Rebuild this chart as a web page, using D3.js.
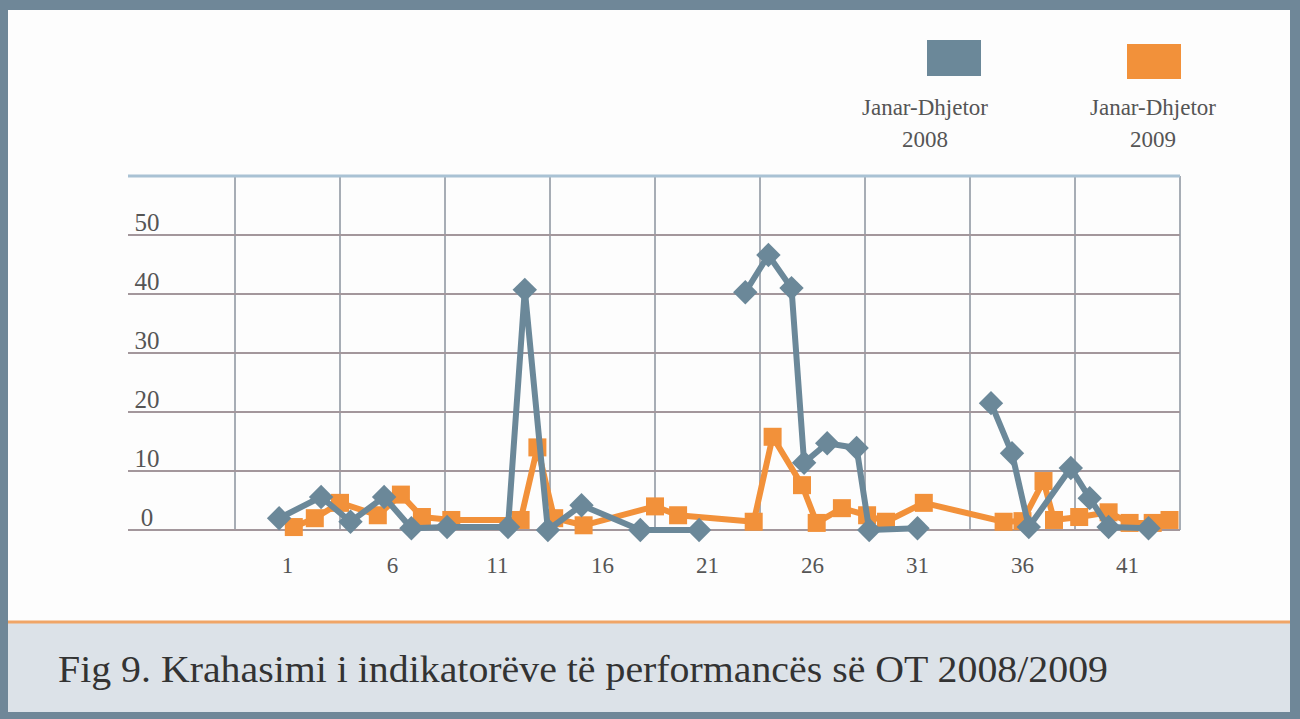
<!DOCTYPE html>
<html>
<head>
<meta charset="utf-8">
<script src="https://cdn.jsdelivr.net/npm/d3@7"></script>
<style>
  body { margin: 0; background: #fff; }
  svg { display: block; }
  .grid-h { stroke: #a3979c; stroke-width: 2; }
  .grid-v { stroke: #8a929c; stroke-width: 1.5; }
  .grid-top { stroke: #a9c2d4; stroke-width: 3; }
  .serif { font-family: "Liberation Serif", "Times New Roman", "DejaVu Serif", serif; }
  .tick { fill: #555; }
</style>
</head>
<body>
<svg width="1300" height="719"></svg>
<script>
// positions (indicator axis) and values; null = break in the line
const pos2008 = [0.7, 2.7, 4.1, 5.7, 7.0, 8.7, 11.6, 12.4, 13.5, 15.1, 17.9, 20.7, null,
  22.9, 24.0, 25.1, 25.7, 26.8, 28.2, 28.8, 31.1, null,
  34.6, 35.6, 36.4, 38.4, 39.3, 40.2, 42.1];
const val2008 = [2.0, 5.6, 1.4, 5.6, 0.3, 0.5, 0.5, 40.7, 0, 4.2, 0, 0, null,
  40.3, 46.6, 41.0, 11.4, 14.7, 13.9, 0, 0.3, null,
  21.5, 13.0, 0.5, 10.5, 5.4, 0.5, 0.3];

const pos2009 = [1.4, 2.4, 3.6, 5.4, 6.5, 7.5, 8.9, 12.2, 13.0, 13.8, 15.2, 18.6, 19.7,
  23.3, 24.2, 25.6, 26.3, 27.5, 28.7, 29.6, 31.4, 35.2, 36.1, 37.1, 37.6,
  38.8, 40.2, 41.2, 42.3, 43.1];
const val2009 = [0.5, 2.0, 4.6, 2.5, 6.0, 2.2, 1.7, 1.7, 14.0, 2.0, 0.8, 4.0, 2.5,
  1.4, 15.8, 7.6, 1.2, 3.7, 2.5, 1.4, 4.6, 1.4, 1.5, 8.3, 1.7,
  2.2, 3.0, 1.2, 1.2, 1.7];

const xTicks = [1, 6, 11, 16, 21, 26, 31, 36, 41];
const yTicks = [0, 10, 20, 30, 40, 50];
const legendLabels = [["Janar-Dhjetor", "2008"], ["Janar-Dhjetor", "2009"]];
const caption = "Fig 9. Krahasimi i indikatorëve të performancës së OT 2008/2009";

const blue = "#6b8899";
const orange = "#f2913a";

const svg = d3.select("svg");

// frame and caption panel
svg.append("rect").attr("x", 0).attr("y", 0).attr("width", 1300).attr("height", 719)
  .attr("fill", "#6f8798");
svg.append("rect").attr("x", 8).attr("y", 10).attr("width", 1282).attr("height", 611)
  .attr("fill", "#fdfdfd");
svg.append("rect").attr("x", 8).attr("y", 623).attr("width", 1282).attr("height", 89)
  .attr("fill", "#dce2e8");
svg.append("line").attr("x1", 8).attr("x2", 1290).attr("y1", 622).attr("y2", 622)
  .attr("stroke", "#f0a567").attr("stroke-width", 3);
svg.append("text")
  .attr("class", "serif")
  .attr("x", 58).attr("y", 682)
  .attr("textLength", 1050).attr("lengthAdjust", "spacingAndGlyphs")
  .style("font-size", "37px").style("fill", "#333")
  .text(caption);

const x = d3.scaleLinear().domain([-6.4, 43.6]).range([130, 1180]);
const y = d3.scaleLinear().domain([0, 60]).range([530, 176]);

// grid
svg.append("g").selectAll("line")
  .data(d3.range(-1.4, 44, 5))
  .join("line")
  .attr("class", "grid-v")
  .attr("x1", (d) => x(d)).attr("x2", (d) => x(d))
  .attr("y1", y(60)).attr("y2", y(0));
svg.append("g").selectAll("line")
  .data(yTicks)
  .join("line")
  .attr("class", "grid-h")
  .attr("x1", x(-6.4) - 2).attr("x2", x(43.6))
  .attr("y1", (d) => y(d)).attr("y2", (d) => y(d));
svg.append("line").attr("class", "grid-top")
  .attr("x1", x(-6.4) - 2).attr("x2", x(43.6))
  .attr("y1", y(60)).attr("y2", y(60));

// tick labels
svg.append("g").selectAll("text")
  .data(yTicks)
  .join("text")
  .attr("class", "serif tick")
  .attr("x", 147).attr("y", (d) => y(d) - 4)
  .attr("text-anchor", "middle")
  .style("font-size", "25px")
  .text((d) => d);
svg.append("g").selectAll("text")
  .data(xTicks)
  .join("text")
  .attr("class", "serif tick")
  .attr("x", (d) => x(d) + 2).attr("y", 573)
  .attr("text-anchor", "middle")
  .style("font-size", "23px")
  .text((d) => d);

// series
const s2008 = pos2008.map((p, i) => ({ x: p, y: val2008[i] }));
const s2009 = pos2009.map((p, i) => ({ x: p, y: val2009[i] }));
const line = d3.line()
  .defined((d) => d.y !== null)
  .x((d) => x(d.x)).y((d) => y(d.y));

svg.append("path").datum(s2009)
  .attr("d", line).attr("fill", "none")
  .attr("stroke", orange).attr("stroke-width", 6).attr("stroke-linejoin", "round");
svg.append("g").selectAll("rect")
  .data(s2009)
  .join("rect")
  .attr("x", (d) => x(d.x) - 9).attr("y", (d) => y(d.y) - 9)
  .attr("width", 18).attr("height", 18)
  .attr("fill", orange);

svg.append("path").datum(s2008)
  .attr("d", line).attr("fill", "none")
  .attr("stroke", blue).attr("stroke-width", 6).attr("stroke-linejoin", "round");
svg.append("g").selectAll("path.diamond")
  .data(s2008.filter((d) => d.y !== null))
  .join("path")
  .attr("class", "diamond")
  .attr("d", d3.symbol().type(d3.symbolDiamond2).size(380))
  .attr("transform", (d) => `translate(${x(d.x)},${y(d.y)})`)
  .attr("fill", blue);

// legend
const legend = [
  { color: blue, bx: 927, by: 40, tx: 925, h: 36 },
  { color: orange, bx: 1127, by: 44, tx: 1153, h: 35 },
];
legend.forEach((l, i) => {
  svg.append("rect")
    .attr("x", l.bx).attr("y", l.by).attr("width", 54).attr("height", l.h)
    .attr("fill", l.color);
  legendLabels[i].forEach((t, j) => {
    svg.append("text")
      .attr("class", "serif")
      .attr("x", l.tx).attr("y", 115 + j * 32)
      .attr("text-anchor", "middle")
      .style("font-size", "23px").style("fill", "#555")
      .text(t);
  });
});
</script>
</body>
</html>
